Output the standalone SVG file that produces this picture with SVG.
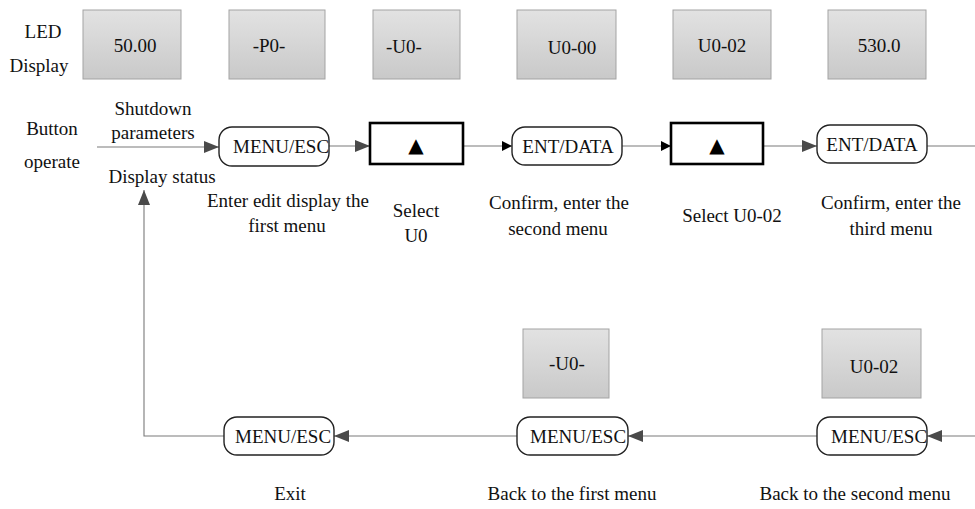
<svg xmlns="http://www.w3.org/2000/svg" width="975" height="509" viewBox="0 0 975 509">
<style>
text{font-family:"Liberation Serif","Times New Roman",serif;font-size:19px;fill:#111;}
.c{text-anchor:middle;}
.led{fill:url(#g);stroke:#a3a3a3;stroke-width:1;}
.btn{fill:#fff;stroke:#222;stroke-width:1.4;}
.up{fill:#fff;stroke:#000;stroke-width:2.6;}
.tri{font-family:"DejaVu Sans",sans-serif;font-size:20px;fill:#000;text-anchor:middle;}
.ln{fill:none;stroke:#7a7a7a;stroke-width:1.1;}
</style>
<defs>
<linearGradient id="g" x1="0" y1="0" x2="0" y2="1">
<stop offset="0" stop-color="#e2e2e2"/>
<stop offset="1" stop-color="#c9c9c9"/>
</linearGradient>
<marker id="ag" markerWidth="15" markerHeight="12" refX="15" refY="6" orient="auto" markerUnits="userSpaceOnUse">
<path d="M0,0 L15,6 L0,12 Z" fill="#4a4a4a"/>
</marker>
<marker id="ab" markerWidth="10" markerHeight="10" refX="10" refY="5" orient="auto" markerUnits="userSpaceOnUse">
<path d="M0,0 L10,5 L0,10 Z" fill="#000"/>
</marker>
</defs>

<g id="labels">
<text class="c" x="43" y="38">LED</text>
<text class="c" x="39" y="72">Display</text>
<text class="c" x="52" y="135">Button</text>
<text class="c" x="52" y="168">operate</text>
<text class="c" x="153" y="115">Shutdown</text>
<text class="c" x="153" y="139">parameters</text>
<text class="c" x="162" y="183">Display status</text>
<text class="c" x="288" y="207">Enter edit display the</text>
<text class="c" x="287" y="232">first menu</text>
<text class="c" x="416" y="217">Select</text>
<text class="c" x="416" y="242">U0</text>
<text class="c" x="559" y="209">Confirm, enter the</text>
<text class="c" x="558" y="235">second menu</text>
<text class="c" x="732" y="222">Select U0-02</text>
<text class="c" x="891" y="209">Confirm, enter the</text>
<text class="c" x="891" y="235">third menu</text>
<text class="c" x="290" y="500">Exit</text>
<text class="c" x="572" y="500">Back to the first menu</text>
<text class="c" x="855" y="500">Back to the second menu</text>
</g>

<g id="led1"><rect class="led" x="83" y="10" width="98" height="69"/><text class="c" x="135" y="52">50.00</text></g>
<g id="led2"><rect class="led" x="229" y="10" width="96" height="69"/><text class="c" x="269" y="52">-P0-</text></g>
<g id="led3"><rect class="led" x="373" y="10" width="87" height="69"/><text class="c" x="404" y="53">-U0-</text></g>
<g id="led4"><rect class="led" x="517" y="10" width="99" height="69"/><text class="c" x="572" y="54">U0-00</text></g>
<g id="led5"><rect class="led" x="673" y="10" width="98" height="69"/><text class="c" x="722" y="52">U0-02</text></g>
<g id="led6"><rect class="led" x="828" y="10" width="98" height="69"/><text class="c" x="879" y="52">530.0</text></g>
<g id="led7"><rect class="led" x="523" y="329" width="86" height="69"/><text class="c" x="567" y="370">-U0-</text></g>
<g id="led8"><rect class="led" x="822" y="329" width="99" height="69"/><text class="c" x="874" y="373">U0-02</text></g>

<g id="connectors">
<path class="ln" d="M97,147 L219,147" marker-end="url(#ag)"/>
<path class="ln" d="M329,146 L370,146" marker-end="url(#ag)"/>
<path class="ln" d="M463,146 L512,146" marker-end="url(#ab)"/>
<path class="ln" d="M622,146 L671,146" marker-end="url(#ab)"/>
<path class="ln" d="M763,146 L817,146" marker-end="url(#ag)"/>
<path class="ln" d="M927,146 L975,146"/>
<path class="ln" d="M975,436 L927,436" marker-end="url(#ag)"/>
<path class="ln" d="M817,436 L628,436" marker-end="url(#ag)"/>
<path class="ln" d="M517,436 L334,436" marker-end="url(#ag)"/>
<path class="ln" d="M224,436 L144,436 L144,190" stroke="#9a9a9a" marker-end="url(#ag)"/>
</g>

<g id="menu1"><rect class="btn" x="219" y="127" width="110" height="39" rx="13"/><text x="233" y="153">MENU/ESC</text></g>
<g id="up1"><rect class="up" x="370" y="123" width="93" height="41"/><text class="tri" x="416" y="152">▲</text></g>
<g id="ent1"><rect class="btn" x="512" y="127" width="110" height="38" rx="13"/><text class="c" x="568" y="153">ENT/DATA</text></g>
<g id="up2"><rect class="up" x="671" y="123" width="92" height="41"/><text class="tri" x="717" y="152">▲</text></g>
<g id="ent2"><rect class="btn" x="817" y="125" width="110" height="38" rx="13"/><text class="c" x="872" y="151">ENT/DATA</text></g>
<g id="menu4"><rect class="btn" x="817" y="417" width="110" height="38" rx="13"/><text x="831" y="443">MENU/ESC</text></g>
<g id="menu3"><rect class="btn" x="517" y="417" width="111" height="38" rx="13"/><text x="530" y="443">MENU/ESC</text></g>
<g id="menu2"><rect class="btn" x="224" y="417" width="110" height="38" rx="13"/><text x="235" y="443">MENU/ESC</text></g>
</svg>
